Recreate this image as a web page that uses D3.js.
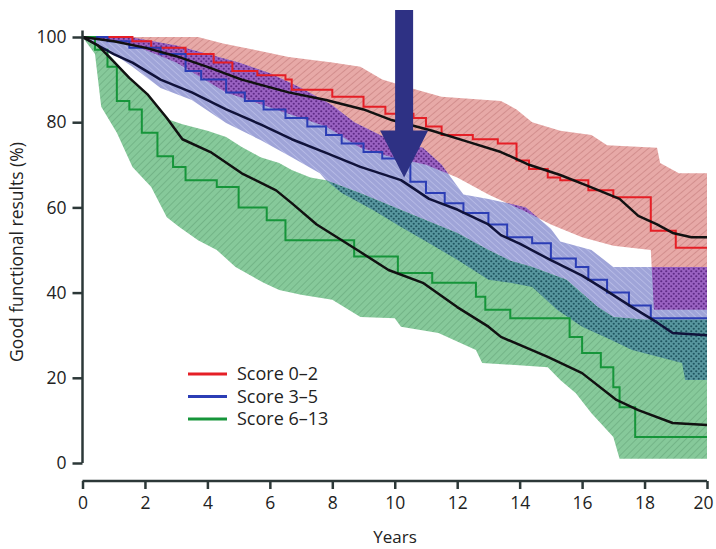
<!DOCTYPE html>
<html>
<head>
<meta charset="utf-8">
<script src="https://cdn.jsdelivr.net/npm/d3@7"></script>
<style>
  body { margin: 0; background: #fff; }
  svg text { font-family: "Open Sans", "Lato", sans-serif; fill: #222; }
</style>
</head>
<body>
<svg id="chart"></svg>
<script>
const width = 716, height = 549;

// --- data: [years, %] ---
const years = [0, 2, 4, 6, 8, 10, 12, 14, 16, 18, 20];
const yTicks = [0, 20, 40, 60, 80, 100];

const legendLabels = ["Score 0\u20132", "Score 3\u20135", "Score 6\u201313"];

// Kaplan-Meier step curves
const redKM = [[0,100],[1.6,99],[2.2,97.5],[3.3,96],[4.2,94],[4.8,92],[5.6,91],[6.5,90],[6.7,87.6],[8.0,86],[9.0,83.6],[9.7,82],[10.6,81],[11.0,79],[11.5,77],[12.5,76],[13.3,75],[13.9,71],[14.3,69],[14.9,67],[15.3,66.4],[16.2,64],[17.0,62.4],[18.2,54.5],[19.0,50.5],[20,50.5]];
const blueKM = [[0,100],[0.8,99],[1.5,97.5],[2.5,96],[3.3,92],[3.8,90],[4.6,87],[5.2,85],[5.8,83],[6.5,81],[7.2,79],[7.8,77],[8.3,75],[9.0,73],[9.6,71.5],[10.2,70],[10.5,66],[11.0,63.4],[11.6,61],[12.2,58.7],[13.0,56],[13.6,53],[14.4,51.6],[15.0,48],[15.8,46],[16.2,43],[16.8,40],[17.5,37],[18.2,34],[20,34]];
const greenKM = [[0,100],[0.4,97],[0.8,93],[1.1,85],[1.5,83],[1.9,77.5],[2.4,72],[2.9,69.5],[3.3,66.4],[4.3,64.8],[5.0,60],[5.9,57],[6.5,52.3],[8.7,48.5],[10.1,44.6],[11.2,42.3],[12.6,39],[12.9,36],[13.7,34],[15.6,29.6],[16.0,25.8],[16.6,22.5],[17.0,17.8],[17.2,13.1],[17.7,6.1],[20,6.1]];

// black (predicted) curves
const redPred = [[0,100],[1,99],[2,97.5],[3,95.5],[4,93],[5.1,90],[6.6,87],[7.8,85.2],[9,83],[9.9,80.5],[11.2,78],[12.3,75.5],[13.4,73],[14.3,70],[15.3,67.6],[16.2,65],[17.2,62],[17.8,58],[18.4,56],[18.9,54],[19.5,53],[20,53]];
const bluePred = [[0,100],[0.5,98],[1,96],[1.6,94],[2.5,90],[3.5,87],[4.6,83],[5.7,79.5],[6.7,76],[7.8,72.8],[8.9,69.5],[10.2,66.4],[11.1,62],[12,59.5],[13,56],[13.4,53.5],[14,51.5],[15,47.6],[16,44],[16.6,41.3],[17.6,36.6],[18.4,33],[18.9,30.5],[20,30]];
const greenPred = [[0,100],[0.5,98],[0.9,95],[1.5,90.4],[2.1,86.4],[2.7,81],[3.2,76],[4.1,73],[5.1,68],[6.2,64],[6.7,61],[7.5,56],[8.8,50],[9.8,45.3],[10.9,42.3],[12,36.6],[13,32],[13.4,29.6],[14.9,24.9],[16,21.1],[17.1,14.8],[17.8,12.4],[18.9,9.4],[20,8.9]];

// confidence bands
const redUpper = [[0,100],[3.7,100],[4.5,98.5],[5.5,97],[6.6,95.3],[8,94],[8.9,93],[9.6,90],[10.5,88],[11.5,86],[13.4,85],[13.9,83],[14.4,80],[15.3,78],[16.3,77],[16.8,74.6],[18.4,74],[18.5,70.4],[19.1,68],[20,68]];
const redLower = [[0,100],[1,99],[2,97],[3,94],[4.6,87],[6.2,83],[7.8,79],[8.9,74],[9.8,72],[11,70],[12,67],[13,63],[14.2,59],[15,56],[16,53],[17,51],[18.2,50],[18.3,36],[20,36]];
const blueUpper = [[0,100],[1.5,100],[3,98],[4,96],[5,94],[6,91.5],[7,88],[8,84],[8.7,80],[9.8,76],[10.9,74],[11.5,70],[12,65],[12.2,63],[13,62],[14.2,60],[15,55],[15.3,52],[16.3,50],[17,46],[20,46]];
const blueLower = [[0,100],[0.5,98],[1,96],[1.6,93],[2.5,88],[3.5,85.2],[4.6,79.8],[5.7,75.8],[6.7,71.8],[7.6,68],[7.8,66.4],[8.3,63.4],[9.3,59.4],[10.2,55.4],[11.1,51.6],[12,47.7],[13,43],[13.7,42.3],[14.4,41.3],[15.2,36],[16,32],[16.9,29],[17.6,26.5],[19.2,23.5],[19.3,19.5],[20,19.5]];
const greenUpper = [[0,100],[0.5,98],[0.9,95.5],[1.5,90.5],[2,87],[2.4,84],[2.8,80.5],[3.2,79.5],[4,78],[4.6,76.5],[5.1,74.2],[5.7,71.8],[6.3,70.4],[6.7,68.8],[7.3,67],[7.8,66.4],[9,63],[10.2,59.4],[11,57],[12,54],[13,50],[13.7,47.5],[14.4,46],[15.5,43],[16.5,36.6],[17,34.3],[18,33.6],[20,33.6]];
const greenLower = [[0,100],[0.4,96],[0.6,83.6],[1.1,77.5],[1.6,69.5],[2.2,64.8],[2.7,57.7],[3.1,55.4],[3.7,52.3],[4.3,50],[4.9,46],[5.8,42.3],[6.3,40.6],[7,39.5],[8,38.3],[8.9,34.3],[10,34],[10.2,32],[11.4,30.5],[12.6,26.5],[12.8,23.5],[14.9,22.5],[15.3,19.5],[15.8,16.4],[16.3,11.7],[17,6.1],[17.2,1],[20,1]];

// arrow annotation (year, % at the tip)
const arrowYear = 10.3, arrowTip = 67;

// --- setup ---
const svg = d3.select("#chart").attr("width", width).attr("height", height);

const x = d3.scaleLinear().domain([0, 20]).range([82.5, 707]);
const y = d3.scaleLinear().domain([0, 100]).range([463, 37]);

const lineLin = d3.line().x(d => x(d[0])).y(d => y(d[1]));
const lineStep = d3.line().x(d => x(d[0])).y(d => y(d[1])).curve(d3.curveStepAfter);

function band(upper, lower) {
    return lineLin(upper.concat(lower.slice().reverse())) + "Z";
}

// patterns
const defs = svg.append("defs");
function hatch(id, bg, stroke, angle, gap, sw) {
    const p = defs.append("pattern").attr("id", id)
        .attr("patternUnits", "userSpaceOnUse")
        .attr("width", gap).attr("height", gap)
        .attr("patternTransform", "rotate(" + angle + ")");
    p.append("rect").attr("width", gap).attr("height", gap).attr("fill", bg);
    p.append("line").attr("x1", 0).attr("y1", 0).attr("x2", 0).attr("y2", gap)
        .attr("stroke", stroke).attr("stroke-width", sw);
}
function dots(id, bg, dot, size) {
    const p = defs.append("pattern").attr("id", id)
        .attr("patternUnits", "userSpaceOnUse")
        .attr("width", size).attr("height", size);
    p.append("rect").attr("width", size).attr("height", size).attr("fill", bg);
    p.append("circle").attr("cx", size / 4).attr("cy", size / 4).attr("r", 1.1).attr("fill", dot);
    p.append("circle").attr("cx", size * 3 / 4).attr("cy", size * 3 / 4).attr("r", 1.1).attr("fill", dot);
}
hatch("hRed", "#e7a9a7", "#c47c7c", 50, 5, 1.2);
hatch("hBlue", "#9fa4d8", "#c6c9ee", -48, 4.5, 1.1);
hatch("hGreen", "#86c99a", "#66a67b", 45, 5, 1.2);
dots("dPurple", "#9a62c2", "#5e2a86", 5);
dots("dTeal", "#58979f", "#1f5560", 5);

defs.append("clipPath").attr("id", "clipRed").append("path").attr("d", band(redUpper, redLower));
defs.append("clipPath").attr("id", "clipBlue").append("path").attr("d", band(blueUpper, blueLower));

// bands
svg.append("path").attr("d", band(redUpper, redLower)).attr("fill", "url(#hRed)");
svg.append("path").attr("d", band(blueUpper, blueLower)).attr("fill", "url(#hBlue)");
svg.append("path").attr("d", band(greenUpper, greenLower)).attr("fill", "url(#hGreen)");
// overlaps
svg.append("path").attr("d", band(blueUpper, blueLower)).attr("clip-path", "url(#clipRed)").attr("fill", "url(#dPurple)");
svg.append("path").attr("d", band(greenUpper, greenLower)).attr("clip-path", "url(#clipBlue)").attr("fill", "url(#dTeal)");

// KM lines
const kmSeries = [
    { data: redKM, color: "#e51f26" },
    { data: blueKM, color: "#2b3db5" },
    { data: greenKM, color: "#16953a" }
];
svg.selectAll(".km")
    .data(kmSeries)
    .enter().append("path")
    .attr("class", "km")
    .attr("d", d => lineStep(d.data))
    .attr("fill", "none")
    .attr("stroke", d => d.color)
    .attr("stroke-width", 2);

// predicted black lines
svg.selectAll(".pred")
    .data([redPred, bluePred, greenPred])
    .enter().append("path")
    .attr("class", "pred")
    .attr("d", d => lineLin(d))
    .attr("fill", "none")
    .attr("stroke", (d, i) => i === 1 ? "#10123a" : "#111")
    .attr("stroke-width", 2.5)
    .attr("stroke-linejoin", "round");

// axes
const axisColor = "#2c3838";
const yAxis = svg.append("g")
    .attr("transform", "translate(" + x(0) + ",0)")
    .call(d3.axisLeft(y).tickValues(yTicks).tickSize(10).tickPadding(6));
yAxis.select(".domain").remove();
svg.append("line")
    .attr("x1", x(0)).attr("x2", x(0))
    .attr("y1", y(101.5)).attr("y2", y(0))
    .attr("stroke", axisColor).attr("stroke-width", 2.5);

const xAxis = svg.append("g")
    .attr("transform", "translate(0,481)")
    .call(d3.axisBottom(x).tickValues(years).tickSize(8).tickPadding(8).tickSizeOuter(0));
xAxis.select(".domain").attr("d", "M" + x(0) + ",0H" + x(20));
// keep the last year label inside the page
xAxis.selectAll(".tick text").filter(d => d === 20).attr("dx", -4);

svg.selectAll(".tick line").attr("stroke", axisColor).attr("stroke-width", 2.5);
svg.selectAll(".domain").attr("stroke", axisColor).attr("stroke-width", 2.5);
svg.selectAll(".tick text").attr("font-size", 17.5).attr("fill", "#222")
    .style("font-family", "'Open Sans', sans-serif");

svg.append("text")
    .attr("x", 395).attr("y", 543)
    .attr("text-anchor", "middle")
    .attr("font-size", 17)
    .text("Years");

svg.append("text")
    .attr("transform", "translate(23,252) rotate(-90)")
    .attr("text-anchor", "middle")
    .attr("font-size", 17.5)
    .text("Good functional results (%)");

// legend
const legendColors = ["#e51f26", "#2b3db5", "#16953a"];
const legend = svg.append("g").attr("transform", "translate(188,374)");
legendLabels.forEach(function(label, i) {
    legend.append("line")
        .attr("x1", 0).attr("x2", 39)
        .attr("y1", i * 22.5).attr("y2", i * 22.5)
        .attr("stroke", legendColors[i]).attr("stroke-width", 3);
    legend.append("text")
        .attr("x", 49).attr("y", i * 22.5)
        .attr("dy", "0.35em")
        .attr("font-size", 18)
        .text(label);
});

// arrow
const ax = x(arrowYear), tipY = y(arrowTip);
svg.append("path")
    .attr("d", "M" + (ax - 9) + ",10 L" + (ax + 9) + ",10 L" + (ax + 9) + "," + (tipY - 47) +
        " L" + (ax + 24) + "," + (tipY - 47) + " L" + ax + "," + tipY +
        " L" + (ax - 24) + "," + (tipY - 47) + " L" + (ax - 9) + "," + (tipY - 47) + "Z")
    .attr("fill", "#2e3184");
</script>
</body>
</html>
